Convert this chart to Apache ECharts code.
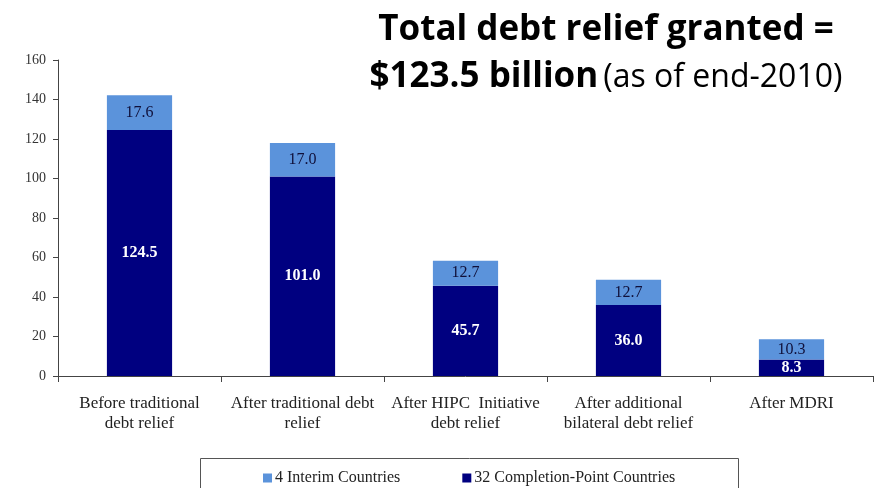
<!DOCTYPE html>
<html>
<head>
<meta charset="utf-8">
<script src="https://cdn.jsdelivr.net/npm/echarts@6/dist/echarts.min.js"></script>
<style>html,body{margin:0;padding:0;background:#fff;}#c{width:878px;height:488px;}</style>
</head>
<body>
<div id="c"></div>
<script>
const categories = ["Before traditional\ndebt relief", "After traditional debt\nrelief", "After HIPC  Initiative\ndebt relief", "After additional\nbilateral debt relief", "After MDRI"];
const completionValues = [124.5, 101.0, 45.7, 36.0, 8.3];
const interimValues = [17.6, 17.0, 12.7, 12.7, 10.3];
const yTicks = [0, 20, 40, 60, 80, 100, 120, 140, 160];
const seriesNames = ["4 Interim Countries", "32 Completion-Point Countries"];

const serif = '"Liberation Serif", "DejaVu Serif", serif';
const chart = echarts.init(document.getElementById('c'));
chart.setOption({
  animation: false,
  backgroundColor: '#fff',
  title: {
    left: 601, top: 2, textAlign: 'center',
    text: '{b|Total debt relief granted =}\n{b|$123.5 billion} {n|(as of end-2010)}',
    textStyle: {
      rich: {
        b: { fontFamily: '"Open Sans", Lato, sans-serif', fontWeight: 'bold', fontSize: 35, color: '#000', lineHeight: 47 },
        n: { fontFamily: '"Open Sans", Lato, sans-serif', fontWeight: 'normal', fontSize: 32, color: '#000', lineHeight: 47 }
      }
    }
  },
  graphic: [{
    type: 'rect', shape: { x: 200.5, y: 458.5, width: 538, height: 40 },
    style: { fill: 'none', stroke: '#555', lineWidth: 1 }, silent: true
  }],
  legend: {
    left: 258, top: 465, itemWidth: 9, itemHeight: 9, itemGap: 62,
    icon: 'rect',
    data: seriesNames,
    textStyle: { fontFamily: serif, fontSize: 16, color: '#222', padding: [0, 0, 0, -2] }
  },
  grid: { left: 58, right: 5, top: 60, bottom: 112, containLabel: false },
  xAxis: {
    type: 'category', data: categories,
    axisLine: { lineStyle: { color: '#444', width: 1 } },
    axisTick: { show: true, length: 6, lineStyle: { color: '#444' } },
    axisLabel: { fontFamily: serif, fontSize: 17, color: '#222', margin: 18, lineHeight: 20, interval: 0 }
  },
  yAxis: {
    type: 'value', min: 0, max: 160, interval: 20,
    splitLine: { show: false },
    axisLine: { show: true, lineStyle: { color: '#444', width: 1 } },
    axisTick: { show: true, length: 5, lineStyle: { color: '#444' } },
    axisLabel: {
      fontFamily: serif, fontSize: 14, color: '#333', margin: 12,
      formatter: v => yTicks.includes(v) ? String(v) : ''
    }
  },
  series: [
    {
      name: seriesNames[1], type: 'bar', stack: 'total', barWidth: '40%',
      data: completionValues,
      itemStyle: { color: '#000080' },
      label: { show: true, position: 'inside', color: '#fff', fontFamily: serif, fontSize: 16, fontWeight: 'bold', formatter: p => p.value.toFixed(1) }
    },
    {
      name: seriesNames[0], type: 'bar', stack: 'total', barWidth: '40%',
      data: interimValues,
      itemStyle: { color: '#5b93db' },
      label: { show: true, position: 'inside', color: '#10103a', fontFamily: serif, fontSize: 16, formatter: p => p.value.toFixed(1) }
    }
  ]
});
</script>
</body>
</html>
